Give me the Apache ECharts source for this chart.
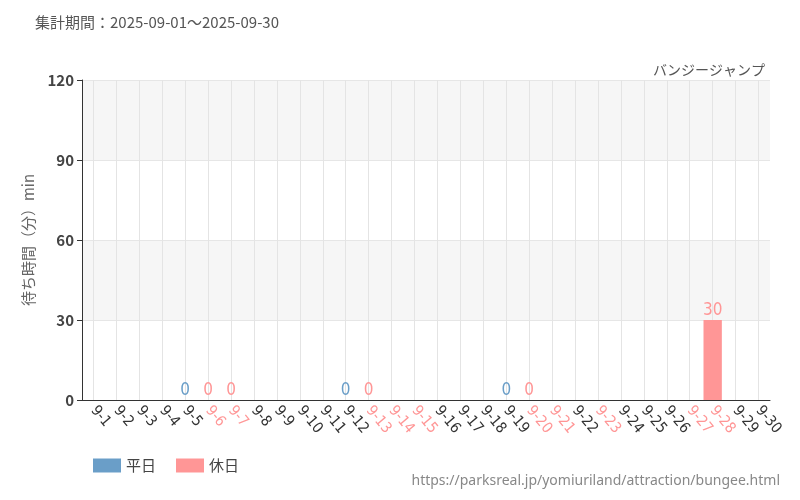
<!DOCTYPE html>
<html>
<head>
<meta charset="UTF-8">
<title>待ち時間</title>
<script src="https://cdn.jsdelivr.net/npm/echarts@6/dist/echarts.min.js"></script>
</head>
<body style="margin:0">
<div id="main" style="width:800px;height:500px;"></div>
<script>
var days = [];
for (var d = 1; d <= 30; d++) days.push('9-' + d);
var holidays = ['9-6','9-7','9-13','9-14','9-15','9-20','9-21','9-23','9-27','9-28'];
// 平日 / 休日 values (null = no data)
var weekdayVals = {'9-5': 0, '9-12': 0, '9-19': 0};
var holidayVals = {'9-6': 0, '9-7': 0, '9-13': 0, '9-20': 0, '9-28': 30};
var yTicks = [0, 30, 60, 90, 120];

var wData = days.map(function (d) { return d in weekdayVals ? weekdayVals[d] : null; });
var hData = days.map(function (d) { return d in holidayVals ? holidayVals[d] : null; });
var blue = '#6a9ec8', red = '#ff9696';
var labelFont = 'DejaVu Sans Condensed';

var myChart = echarts.init(document.getElementById('main'));
myChart.setOption({
    textStyle: {fontFamily: 'Noto Sans CJK JP'},
    title: [
        {text: '集計期間：2025-09-01～2025-09-30', left: 30, top: 10,
         textStyle: {fontSize: 15, fontWeight: 'normal', color: '#555'}},
        {text: 'バンジージャンプ', right: 30, top: 58,
         textStyle: {fontSize: 14, fontWeight: 'normal', color: '#555'}}
    ],
    legend: {
        left: 88, bottom: 22, itemWidth: 28, itemHeight: 14, itemGap: 20, icon: 'rect',
        textStyle: {fontSize: 15, color: '#444'},
        data: ['平日', '休日']
    },
    graphic: [{
        type: 'text', right: 20, bottom: 12,
        style: {text: 'https://parksreal.jp/yomiuriland/attraction/bungee.html', fill: '#888', font: '14px "Noto Sans"'}
    }],
    grid: {left: 82, right: 30, top: 80, bottom: 100},
    xAxis: {
        type: 'category', data: days,
        axisLine: {lineStyle: {color: '#333'}},
        axisTick: {alignWithLabel: true, lineStyle: {color: '#333'}},
        splitLine: {show: false},
        axisLabel: {
            interval: 0, rotate: -50, fontSize: 15, margin: 8, fontFamily: labelFont,
            color: function (v) { return holidays.indexOf(v) >= 0 ? red : '#333'; }
        }
    },
    yAxis: {
        type: 'value', min: 0, max: 120, interval: 30,
        name: '待ち時間（分）min', nameLocation: 'middle', nameGap: 46,
        nameTextStyle: {fontSize: 15, color: '#666'},
        axisLine: {show: true, lineStyle: {color: '#333'}},
        axisTick: {show: true},
        axisLabel: {fontSize: 15, color: '#444', fontWeight: 'bold'},
        splitLine: {lineStyle: {color: '#e6e6e6'}},
        splitArea: {show: true, areaStyle: {color: ['#ffffff', '#f6f6f6']}}
    },
    series: [
        {name: '平日', type: 'bar', stack: 'a', barWidth: '80%', data: wData,
         itemStyle: {color: blue},
         label: {show: true, position: 'top', distance: 1, color: blue, fontSize: 17, fontFamily: labelFont},
         markLine: {
             silent: true, symbol: 'none', label: {show: false}, z: 0,
             lineStyle: {color: '#e4e4e4', type: 'solid', width: 1},
             data: days.map(function (d) { return {xAxis: d}; })
         }},
        {name: '休日', type: 'bar', stack: 'a', barWidth: '80%', data: hData,
         itemStyle: {color: red},
         label: {show: true, position: 'top', distance: 1, color: red, fontSize: 17, fontFamily: labelFont}}
    ]
});
</script>
</body>
</html>
